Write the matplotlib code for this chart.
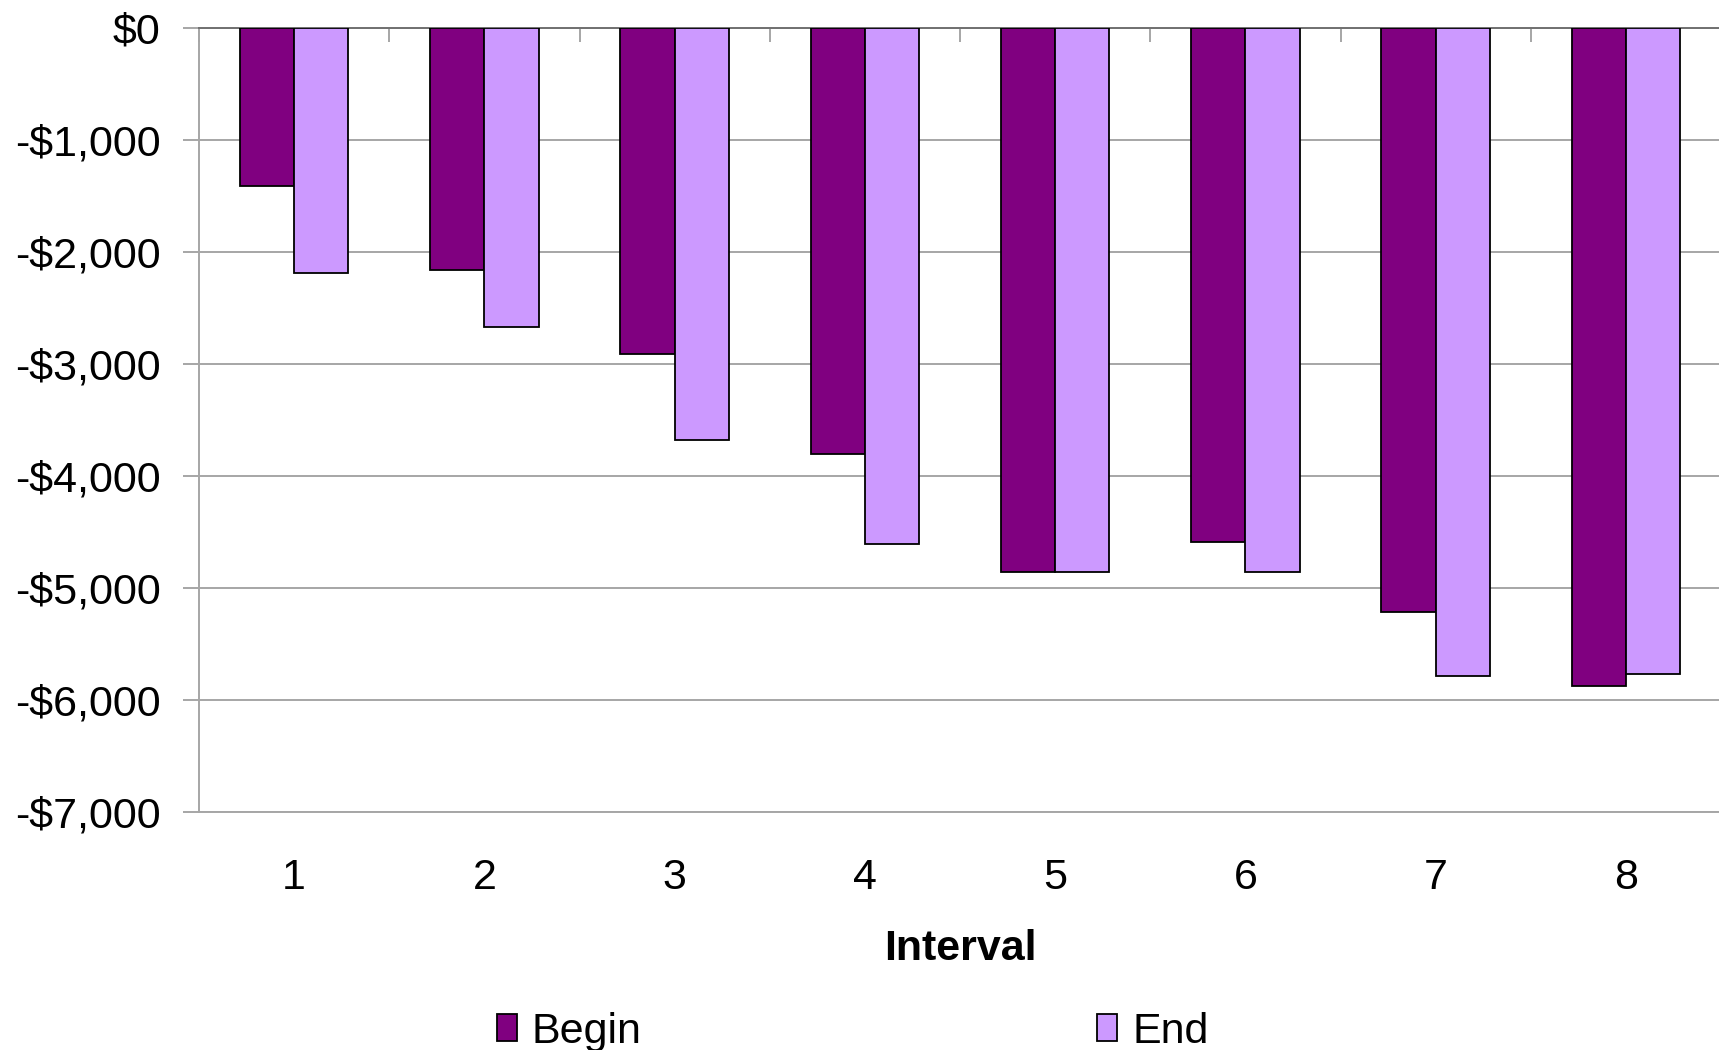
import matplotlib.pyplot as plt
from matplotlib.patches import Patch
from matplotlib.ticker import FuncFormatter
import numpy as np

plt.rcParams['font.family'] = ['Liberation Sans', 'DejaVu Sans']

# cost per interval, begin vs end of interval
intervals = ['1', '2', '3', '4', '5', '6', '7', '8']
begin = [-1415, -2160, -2915, -3805, -4855, -4590, -5212, -5878]
end = [-2190, -2670, -3680, -4610, -4855, -4855, -5785, -5767]

begin_color = '#800080'
end_color = '#CC99FF'
grid_color = '#A6A6A6'
fs = 31

fig = plt.figure(figsize=(17.19, 10.5), dpi=100)
ax = fig.add_axes([199 / 1719, 1 - 812 / 1050, 1522 / 1719, 784 / 1050])

x = np.arange(1, len(intervals) + 1)
w = 1 / 3.5  # gap width 150%
ax.bar(x - w / 2, begin, w, color=begin_color, edgecolor='black', linewidth=1.3, zorder=3)
ax.bar(x + w / 2, end, w, color=end_color, edgecolor='black', linewidth=1.3, zorder=3)

ax.set_xlim(0.5, len(intervals) + 0.5)
ax.set_ylim(-7000, 0)
ax.set_yticks(np.arange(-7000, 1, 1000))
ax.yaxis.set_major_formatter(FuncFormatter(
    lambda v, _: f"${v:,.0f}" if v >= 0 else f"-${-v:,.0f}"))
ax.yaxis.grid(True, color=grid_color, linewidth=1.4, zorder=0)

# category boundary ticks hang from the zero line, labels sit at the bottom
ax.set_xticks(np.arange(0.5, len(intervals) + 1, 1))
ax.set_xticks(x, minor=True)
ax.set_xticklabels(intervals, minor=True)
ax.tick_params(axis='x', which='major', top=True, bottom=False, direction='in',
               length=10, width=1.4, color=grid_color, labeltop=False, labelbottom=False)
ax.tick_params(axis='x', which='minor', length=0, labelsize=fs, pad=33)
ax.tick_params(axis='y', direction='out', length=11.5, width=1.4, color=grid_color,
               labelsize=fs, pad=16)

for side in ['left', 'bottom', 'top']:
    ax.spines[side].set_color(grid_color)
    ax.spines[side].set_linewidth(1.4)
ax.spines['right'].set_visible(False)
ax.spines['top'].set_color('#707070')

ax.set_xlabel('Interval', fontsize=fs, fontweight='bold')
ax.xaxis.set_label_coords(0.5, -(949 - 812) / 784)
ax.xaxis.label.set_va('center')

handles = [Patch(facecolor=begin_color, edgecolor='black', linewidth=1.3, label='Begin'),
           Patch(facecolor=end_color, edgecolor='black', linewidth=1.3, label='End')]
fig.legend(handles=handles, loc='center', bbox_to_anchor=(0.496, 1 - 1032 / 1050),
           ncol=2, frameon=False, fontsize=fs, handlelength=0.47, handleheight=0.6,
           handletextpad=0.35, columnspacing=10.57, borderaxespad=0)

fig.savefig('out.png', dpi=100)
